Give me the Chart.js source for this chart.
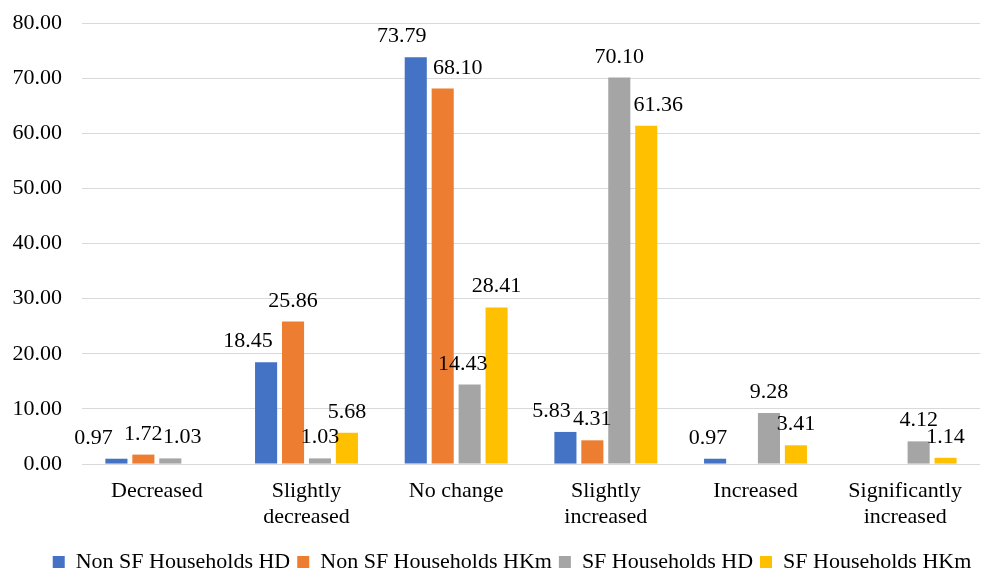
<!DOCTYPE html>
<html>
<head>
<meta charset="utf-8">
<script src="https://cdn.jsdelivr.net/npm/chart.js@4.4.0/dist/chart.umd.min.js"></script>
<style>
  html, body { margin: 0; padding: 0; background: #ffffff; }
  #wrap { width: 981px; height: 570px; }
</style>
</head>
<body>
<div id="wrap"><canvas id="barChart" width="981" height="570"></canvas></div>
<script>
const categories = [
  "Decreased",
  ["Slightly", "decreased"],
  "No change",
  ["Slightly", "increased"],
  "Increased",
  ["Significantly", "increased"],
];
const seriesNames = [
  "Non SF Households HD",
  "Non SF Households HKm",
  "SF Households HD",
  "SF Households HKm",
];
const nonSfHD = [0.97, 18.45, 73.79, 5.83, 0.97, null];
const nonSfHKm = [1.72, 25.86, 68.1, 4.31, null, null];
const sfHD = [1.03, 1.03, 14.43, 70.1, 9.28, 4.12];
const sfHKm = [null, 5.68, 28.41, 61.36, 3.41, 1.14];
const yTicks = [0, 10, 20, 30, 40, 50, 60, 70, 80];

const colors = ["#4472C4", "#ED7D31", "#A5A5A5", "#FFC000"];
const FONT = "'Liberation Serif', 'Times New Roman', serif";

// some labels were moved sideways in the original so they don't collide
// key = "series,category" -> horizontal nudge in px
const labelNudge = {
  "0,0": -23, "2,0": 12,
  "0,1": -18,
  "0,2": -14, "1,2": 15, "2,2": -7,
  "0,3": -14, "3,3": 12,
  "0,4": -7,
};

// labels above each bar
const valueLabels = {
  id: "valueLabels",
  afterLayout(chart) {
    // legend sits a bit right of centre in the original
    chart.legend.left += 22;
    chart.legend.right += 22;
  },
  afterDatasetsDraw(chart) {
    const ctx = chart.ctx;
    ctx.save();
    ctx.font = "22px " + FONT;
    ctx.fillStyle = "#000000";
    ctx.textAlign = "center";
    ctx.textBaseline = "alphabetic";
    chart.data.datasets.forEach((ds, i) => {
      const meta = chart.getDatasetMeta(i);
      meta.data.forEach((bar, j) => {
        const v = ds.data[j];
        if (v === null || v === undefined) return;
        const dx = labelNudge[i + "," + j] || 0;
        ctx.fillText(v.toFixed(2), bar.x + dx, bar.y - 15);
      });
    });
    ctx.restore();
  },
};

new Chart(document.getElementById("barChart"), {
  type: "bar",
  data: {
    labels: categories,
    datasets: [nonSfHD, nonSfHKm, sfHD, sfHKm].map((d, i) => ({
      label: seriesNames[i],
      data: d,
      backgroundColor: colors[i],
      categoryPercentage: 0.72,
      barPercentage: 0.82,
    })),
  },
  options: {
    responsive: false,
    animation: false,
    layout: { padding: { left: 0, right: 1, top: 23, bottom: -13 } },
    plugins: {
      legend: {
        position: "bottom",
        labels: {
          boxWidth: 12,
          boxHeight: 12,
          padding: 7,
          color: "#000000",
          font: { family: FONT, size: 22 },
        },
      },
      tooltip: { enabled: false },
    },
    scales: {
      x: {
        grid: { display: false, drawTicks: false },
        border: { display: false },
        ticks: {
          color: "#000000",
          font: { family: FONT, size: 22, lineHeight: 1.18 },
          padding: 14,
          maxRotation: 0,
          autoSkip: false,
        },
      },
      y: {
        min: 0,
        max: 80,
        afterBuildTicks(axis) {
          axis.ticks = yTicks.map((v) => ({ value: v }));
        },
        afterFit(axis) {
          axis.width = 82;
          axis.paddingTop = 0;
        },
        grid: { color: "#D9D9D9", lineWidth: 1, drawTicks: false },
        border: { display: false },
        ticks: {
          color: "#000000",
          font: { family: FONT, size: 22 },
          padding: 20,
          callback: (v) => Number(v).toFixed(2),
        },
      },
    },
  },
  plugins: [valueLabels],
});
</script>
</body>
</html>
